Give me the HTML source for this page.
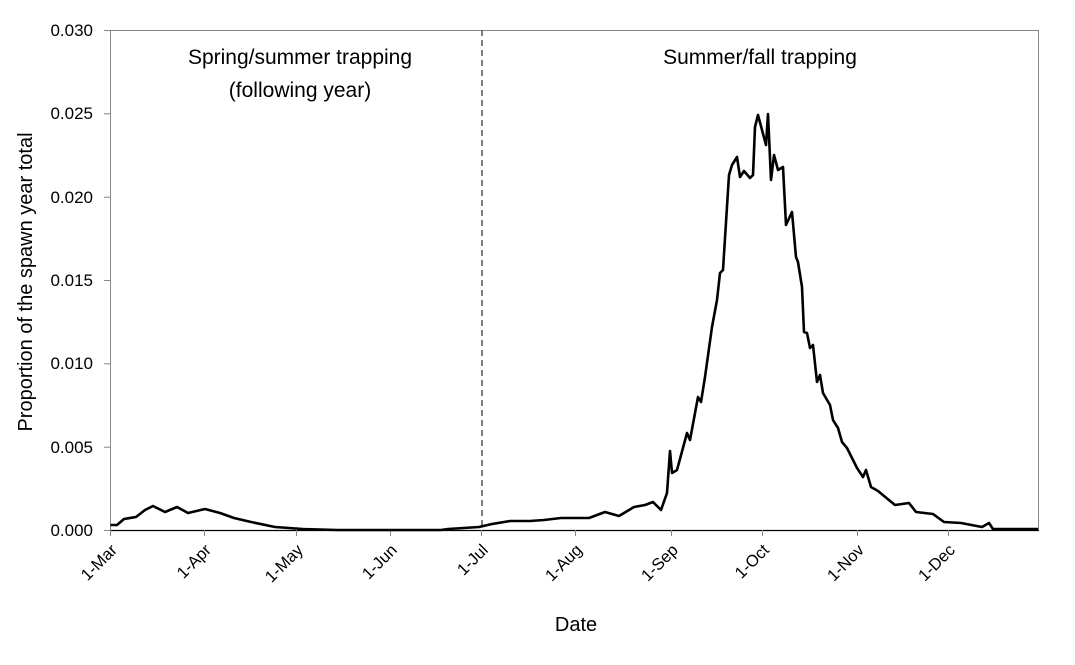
<!DOCTYPE html>
<html><head><meta charset="utf-8"><style>
body{margin:0;background:#fff}
text{font-family:"Liberation Sans",Arial,sans-serif;fill:#000}
</style></head><body>
<svg width="1075" height="660" viewBox="0 0 1075 660" xmlns="http://www.w3.org/2000/svg">
<rect x="110.5" y="30.5" width="928" height="500" fill="none" stroke="#868686" stroke-width="1"/>
<line x1="110" y1="530.5" x2="1039" y2="530.5" stroke="#000" stroke-width="1.2"/>
<g stroke="#868686" stroke-width="1">
<line x1="104" y1="30.5" x2="110" y2="30.5"/><line x1="104" y1="113.8" x2="110" y2="113.8"/>
<line x1="104" y1="197.2" x2="110" y2="197.2"/><line x1="104" y1="280.5" x2="110" y2="280.5"/>
<line x1="104" y1="363.8" x2="110" y2="363.8"/><line x1="104" y1="447.2" x2="110" y2="447.2"/>
<line x1="104" y1="530.5" x2="110" y2="530.5"/>
<line x1="110.5" y1="530" x2="110.5" y2="536"/><line x1="204.5" y1="530" x2="204.5" y2="536"/>
<line x1="296.5" y1="530" x2="296.5" y2="536"/><line x1="390.5" y1="530" x2="390.5" y2="536"/>
<line x1="481.5" y1="530" x2="481.5" y2="536"/><line x1="575.5" y1="530" x2="575.5" y2="536"/>
<line x1="671.5" y1="530" x2="671.5" y2="536"/><line x1="762.5" y1="530" x2="762.5" y2="536"/>
<line x1="857.5" y1="530" x2="857.5" y2="536"/><line x1="948.5" y1="530" x2="948.5" y2="536"/>
</g>
<line x1="482" y1="30" x2="482" y2="530" stroke="#555" stroke-width="1.5" stroke-dasharray="6,4"/>
<g font-size="17" text-anchor="end">
<text x="93" y="36">0.030</text><text x="93" y="119">0.025</text><text x="93" y="203">0.020</text>
<text x="93" y="286">0.015</text><text x="93" y="369">0.010</text><text x="93" y="453">0.005</text>
<text x="93" y="536">0.000</text>
</g>
<g font-size="16.5" text-anchor="end">
<text transform="translate(118,551) rotate(-45)">1-Mar</text>
<text transform="translate(212,551) rotate(-45)">1-Apr</text>
<text transform="translate(304,551) rotate(-45)">1-May</text>
<text transform="translate(398,551) rotate(-45)">1-Jun</text>
<text transform="translate(489,551) rotate(-45)">1-Jul</text>
<text transform="translate(583,551) rotate(-45)">1-Aug</text>
<text transform="translate(679,551) rotate(-45)">1-Sep</text>
<text transform="translate(770,551) rotate(-45)">1-Oct</text>
<text transform="translate(865,551) rotate(-45)">1-Nov</text>
<text transform="translate(956,551) rotate(-45)">1-Dec</text>
</g>
<text x="576" y="631" font-size="20" text-anchor="middle">Date</text>
<text transform="translate(32,282) rotate(-90)" font-size="20" text-anchor="middle">Proportion of the spawn year total</text>
<g font-size="21" text-anchor="middle">
<text x="300" y="64">Spring/summer trapping</text>
<text x="300" y="97">(following year)</text>
<text x="760" y="64">Summer/fall trapping</text>
</g>
<polyline fill="none" stroke="#000" stroke-width="2.6" stroke-linejoin="round" points="
110.5,525 117,525 124,519 136,517 145,510 153,506 165,512 177,507 188,513 205,509 220,513 234,518 251,522 275,527 303,529 337,530 441,530 448,529 479,527 492,524 510,521 530,521 544,520 561,518 589,518 605,512 619,516 634,507 645,505 653,502 661,510 667,493 670,451 672,473 677,470 687,433 690,440 698,397 701,402 705,377 712,327 717,300 720,273 723,270 729,175 732,165 737,157 740,177 744,171 750,178 753,175 755,127 758,115 766,145 768,114 771,180 774,155 778,170 783,167 786,225 792,212 796,257 798,262 802,287 804,332 807,333 810,348 813,345 817,382 820,375 823,393 830,405 833,420 838,428 842,442 847,448 857,468 863,477 866,470 871,487 878,491 895,505 909,503 916,512 933,514 944,522 961,523 982,527 989,523 993,529 1038,529"/>
</svg>
</body></html>
